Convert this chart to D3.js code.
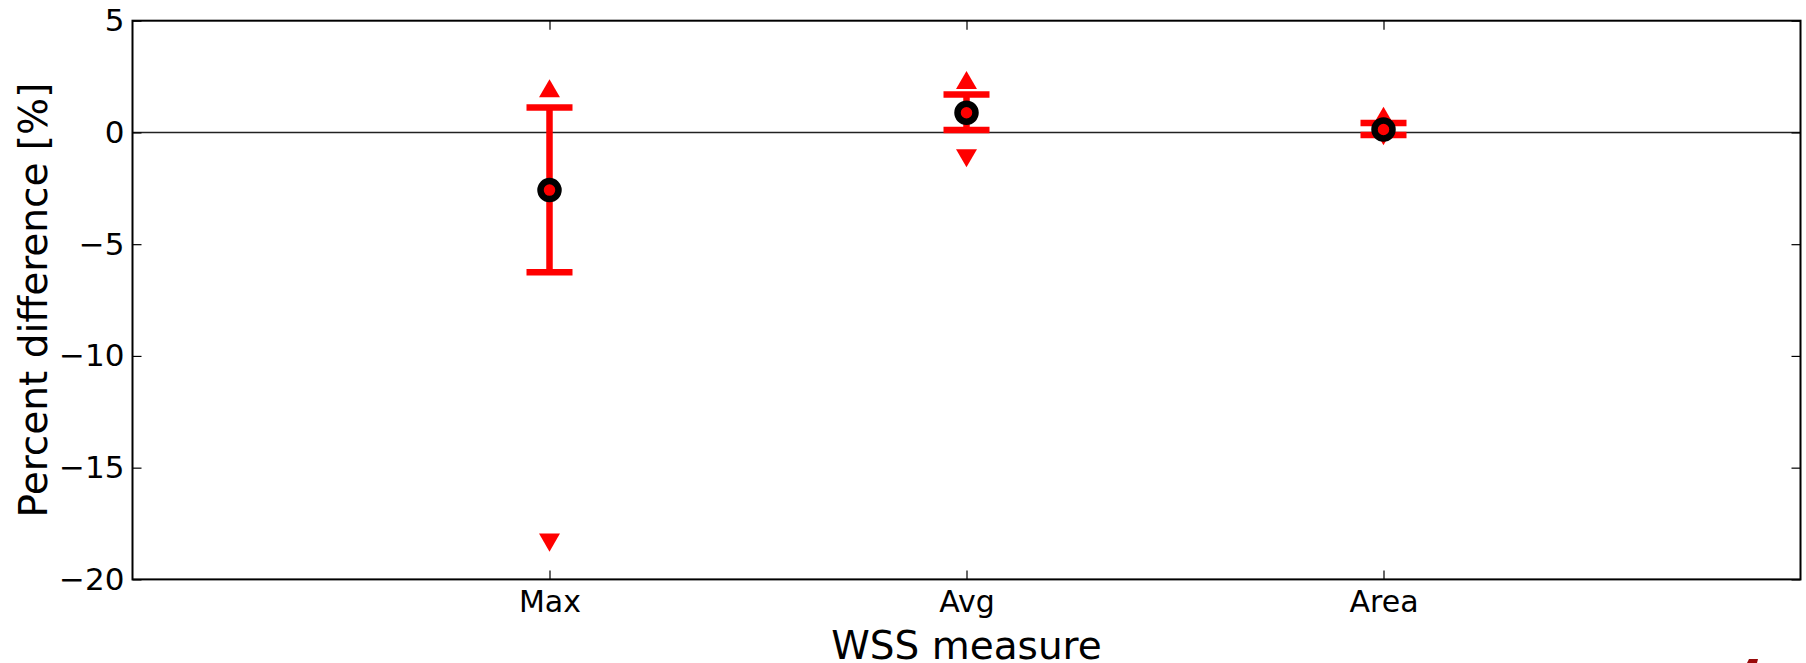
<!DOCTYPE html>
<html>
<head>
<meta charset="utf-8">
<script src="https://cdn.jsdelivr.net/npm/d3@7"></script>
<style>
  html, body { margin: 0; padding: 0; background: #fff; }
  svg { display: block; font-family: "DejaVu Sans", sans-serif; }
</style>
</head>
<body>
<svg id="chart" width="1806" height="663"></svg>
<script>
// WSS measures and their percent differences
const categories = ["Max", "Avg", "Area"];
const meanValues = [-2.58, 0.88, 0.13];
const lowerValues = [-6.26, 0.11, -0.11];
const upperValues = [1.12, 1.70, 0.42];
const maxValues = [1.93, 2.30, 0.70];
const minValues = [-18.31, -1.11, -0.12];
const yTicks = [5, 0, -5, -10, -15, -20];

const W = 1806, H = 663;
const margin = { left: 132.5, right: 5.5, top: 20.7, bottom: 83.6 };
const svg = d3.select("#chart");

const x = d3.scaleLinear().domain([0, 4]).range([margin.left, W - margin.right]);
const y = d3.scaleLinear().domain([-20, 5]).range([H - margin.bottom, margin.top]);
const xPos = i => x(i + 1);

const rows = categories.map((c, i) => ({
  cat: c, i,
  mean: meanValues[i], lo: lowerValues[i], hi: upperValues[i],
  max: maxValues[i], min: minValues[i]
}));

// zero reference line
svg.append("line")
  .attr("x1", x(0)).attr("x2", x(4))
  .attr("y1", y(0)).attr("y2", y(0))
  .attr("stroke", "#222").attr("stroke-width", 1.6);

const red = "#ff0000";
const capHalf = 23;

// error bars
const eb = svg.append("g");
eb.selectAll("line.v").data(rows).join("line")
  .attr("class", "v")
  .attr("x1", d => xPos(d.i)).attr("x2", d => xPos(d.i))
  .attr("y1", d => y(d.lo)).attr("y2", d => y(d.hi))
  .attr("stroke", red).attr("stroke-width", 6.5);
["lo", "hi"].forEach(k => {
  eb.selectAll("line.cap-" + k).data(rows).join("line")
    .attr("class", "cap-" + k)
    .attr("x1", d => xPos(d.i) - capHalf).attr("x2", d => xPos(d.i) + capHalf)
    .attr("y1", d => y(d[k])).attr("y2", d => y(d[k]))
    .attr("stroke", red).attr("stroke-width", 6.5);
});

// max / min markers
const tri = d3.symbol().type(d3.symbolTriangle).size(190);
svg.append("g").selectAll("path.up").data(rows).join("path")
  .attr("d", tri)
  .attr("transform", d => `translate(${xPos(d.i)},${y(d.max) + 2})`)
  .attr("fill", red);
svg.append("g").selectAll("path.down").data(rows).join("path")
  .attr("d", tri)
  .attr("transform", d => `translate(${xPos(d.i)},${y(d.min) - 2}) rotate(180)`)
  .attr("fill", red);

// mean points
svg.append("g").selectAll("circle").data(rows).join("circle")
  .attr("cx", d => xPos(d.i)).attr("cy", d => y(d.mean))
  .attr("r", 9)
  .attr("fill", red).attr("stroke", "#000").attr("stroke-width", 6.5);

// frame
svg.append("rect")
  .attr("x", x(0)).attr("y", y(5))
  .attr("width", x(4) - x(0)).attr("height", y(-20) - y(5))
  .attr("fill", "none").attr("stroke", "#000").attr("stroke-width", 2);

const fmt = v => (v < 0 ? "\u2212" + Math.abs(v) : String(v));

// y axis (left) and mirrored ticks (right)
const yAxisL = svg.append("g").attr("transform", `translate(${x(0)},0)`)
  .call(d3.axisLeft(y).tickValues(yTicks).tickFormat(fmt).tickSizeInner(-9).tickSizeOuter(0).tickPadding(8));
const yAxisR = svg.append("g").attr("transform", `translate(${x(4)},0)`)
  .call(d3.axisRight(y).tickValues(yTicks).tickFormat("").tickSizeInner(-9).tickSizeOuter(0));

// x axis (bottom) and mirrored ticks (top)
const xAxisB = svg.append("g").attr("transform", `translate(0,${y(-20)})`)
  .call(d3.axisBottom(x).tickValues([1, 2, 3]).tickFormat(v => categories[v - 1])
    .tickSizeInner(-9).tickSizeOuter(0).tickPadding(11));
const xAxisT = svg.append("g").attr("transform", `translate(0,${y(5)})`)
  .call(d3.axisTop(x).tickValues([1, 2, 3]).tickFormat("").tickSizeInner(-9).tickSizeOuter(0));

[yAxisL, yAxisR, xAxisB, xAxisT].forEach(g => {
  g.select(".domain").remove();
  g.selectAll(".tick line").attr("stroke", "#000").attr("stroke-width", 1.2);
  g.selectAll("text").attr("fill", "#000")
    .style("font-family", "'DejaVu Sans', sans-serif");
});
yAxisL.selectAll("text").style("font-size", "31px");
xAxisB.selectAll("text").style("font-size", "30px");

// axis titles
svg.append("text")
  .attr("x", (x(0) + x(4)) / 2).attr("y", 659)
  .attr("text-anchor", "middle")
  .style("font-size", "39px")
  .text("WSS measure");
svg.append("text")
  .attr("transform", `translate(47,${(y(5) + y(-20)) / 2}) rotate(-90)`)
  .attr("text-anchor", "middle")
  .style("font-size", "39px")
  .text("Percent difference [%]");

// small dark-red mark at the lower right edge
svg.append("path")
  .attr("d", d3.line()([[1747, 663], [1749, 659], [1758, 659], [1757, 663]]) + "Z")
  .attr("fill", "#990a0a");
</script>
</body>
</html>
